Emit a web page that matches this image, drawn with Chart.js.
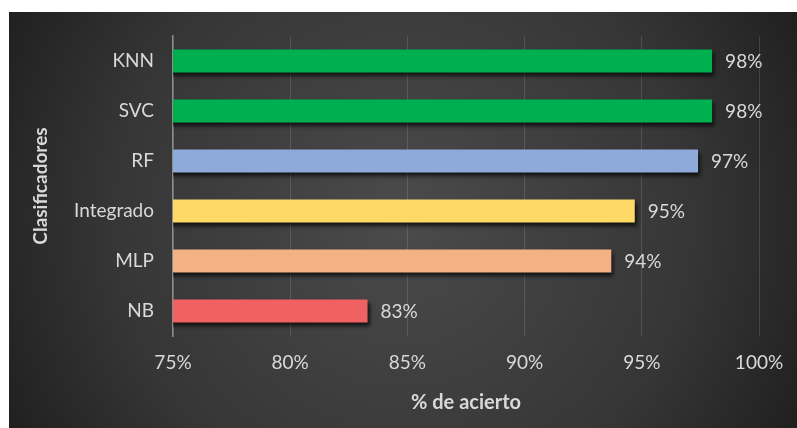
<!DOCTYPE html>
<html>
<head>
<meta charset="utf-8">
<script src="https://cdn.jsdelivr.net/npm/chart.js@4/dist/chart.umd.min.js"></script>
<style>
  html, body { margin: 0; padding: 0; background: #fff; }
  #wrap { position: absolute; left: 9px; top: 12px; width: 788px; height: 416px; }
</style>
</head>
<body>
<div id="wrap"><canvas id="myChart"></canvas></div>
<script>
// clasificadores y % de acierto
const labels = ['KNN', 'SVC', 'RF', 'Integrado', 'MLP', 'NB'];
const accuracy = [0.980, 0.980, 0.974, 0.947, 0.937, 0.833];
const barColors = ['#00b050', '#00b050', '#8eaadb', '#ffd966', '#f4b183', '#f06262'];
const xTicks = [0.75, 0.80, 0.85, 0.90, 0.95, 1.00];

const FONT = 'Lato, "Open Sans", sans-serif';
const TXT = '#d9d9d9';

// fondo oscuro con degradado
const background = {
    id: 'background',
    beforeDraw(chart) {
        const ctx = chart.ctx;
        const w = chart.width, h = chart.height;
        const g = ctx.createRadialGradient(w * 0.5, h * 0.5, 10, w * 0.5, h * 0.5, w * 0.6);
        g.addColorStop(0, '#4a4a4a');
        g.addColorStop(0.6, '#363636');
        g.addColorStop(1, '#1c1c1c');
        ctx.save();
        ctx.fillStyle = g;
        ctx.fillRect(0, 0, w, h);
        ctx.restore();
    }
};

// sombra de las barras
const barShadow = {
    id: 'barShadow',
    beforeDatasetsDraw(chart) {
        const ctx = chart.ctx;
        ctx.save();
        ctx.shadowColor = 'rgba(0,0,0,0.7)';
        ctx.shadowBlur = 4;
        ctx.shadowOffsetX = 2;
        ctx.shadowOffsetY = 3;
    },
    afterDatasetsDraw(chart) {
        chart.ctx.restore();
    }
};

// etiquetas de valor
const valueLabels = {
    id: 'valueLabels',
    afterDatasetsDraw(chart) {
        const ctx = chart.ctx;
        const meta = chart.getDatasetMeta(0);
        ctx.save();
        ctx.fillStyle = TXT;
        ctx.font = '19px ' + FONT;
        ctx.textAlign = 'left';
        ctx.textBaseline = 'middle';
        meta.data.forEach(function (bar, i) {
            const v = chart.data.datasets[0].data[i];
            ctx.fillText(Math.round(v * 100) + '%', bar.x + 13, bar.y + 1);
        });
        ctx.restore();
    }
};

const data = {
    labels: labels,
    datasets: [{
        data: accuracy,
        backgroundColor: barColors,
        borderWidth: 0,
        barPercentage: 0.92,
        categoryPercentage: 0.5
    }]
};

const config = {
    type: 'bar',
    data: data,
    plugins: [background, barShadow, valueLabels],
    options: {
        indexAxis: 'y',
        responsive: true,
        maintainAspectRatio: false,
        animation: false,
        layout: { padding: { left: 0, right: 38, top: 24, bottom: 0 } },
        plugins: {
            legend: { display: false },
            tooltip: { enabled: false }
        },
        scales: {
            x: {
                min: 0.75,
                max: 1.0,
                afterBuildTicks: function (scale) {
                    scale.ticks = xTicks.map(v => ({ value: v }));
                },
                afterFit: function (scale) {
                    scale.height = 92;
                    scale.paddingLeft = 0;
                    scale.paddingRight = 0;
                },
                grid: { color: 'rgba(255,255,255,0.13)', drawTicks: false },
                border: { display: false },
                ticks: {
                    color: TXT,
                    font: { family: FONT, size: 19 },
                    padding: 15,
                    callback: v => Math.round(v * 100) + '%'
                },
                title: {
                    display: true,
                    text: '% de acierto',
                    color: TXT,
                    font: { family: FONT, size: 20, weight: 'bold' },
                    padding: { top: 0, bottom: 13 }
                }
            },
            y: {
                afterFit: function (scale) {
                    scale.width = 164;
                    scale.paddingTop = 0;
                    scale.paddingBottom = 0;
                },
                grid: { display: false, drawTicks: false },
                border: { display: true, color: '#8c8c8c', width: 1.5 },
                ticks: {
                    color: TXT,
                    font: { family: FONT, size: 19 },
                    padding: 19
                },
                title: {
                    display: true,
                    text: 'Clasificadores',
                    color: TXT,
                    font: { family: FONT, size: 19, weight: 'bold' },
                    padding: { top: 20, bottom: 0 }
                }
            }
        }
    }
};

const myChart = new Chart(document.getElementById('myChart'), config);
</script>
</body>
</html>
